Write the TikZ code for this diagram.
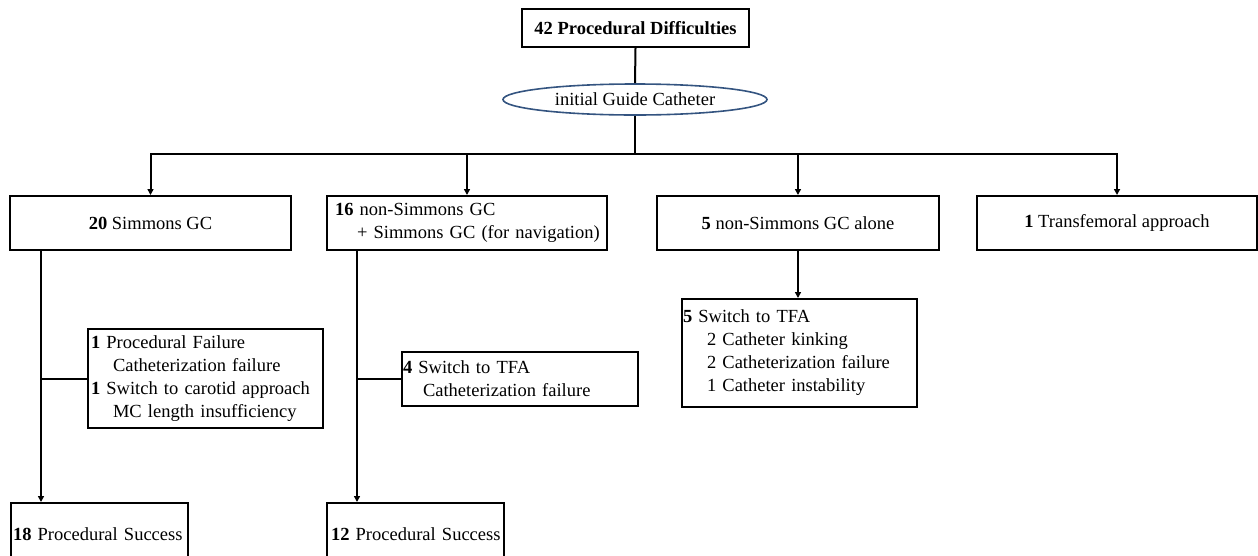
\documentclass[tikz,border=0pt]{standalone}
\usepackage{fontspec}
\setmainfont{Liberation Serif}
\usetikzlibrary{arrows.meta,shapes.geometric,calc}
\definecolor{ellcol}{RGB}{52,84,128}
\begin{document}
\begin{tikzpicture}[x=1pt,y=-1pt,
  font=\fontsize{18.5}{23}\selectfont,
  box/.style={draw,line width=2pt,rectangle,inner sep=0pt},
  lbox/.style={box,align=left},
  conn/.style={line width=2pt},
  arr/.style={conn,-{Triangle[length=6pt,width=6pt]}}]

\useasboundingbox (0,0) rectangle (1258,555);
\clip (0,0) rectangle (1258,555);

% nodes
\node[box,minimum width=227pt,minimum height=38pt] (top) at (635.5,28) {\textbf{42 Procedural Difficulties}};
\node[ellipse,draw=ellcol,line width=1.6pt,minimum width=264pt,minimum height=31pt,inner sep=0pt] (ell) at (635,99.5) {initial Guide Catheter};

\node[box,minimum width=281pt,minimum height=54pt] (b1) at (150.5,223) {\textbf{20} Simmons GC};
\node[lbox,minimum width=280pt,minimum height=54pt,text width=264pt] (b2) at (467,223)
  {\mbox{\textbf{16} non-Simmons GC}\\\mbox{\hspace*{22pt}+ Simmons GC (for navigation)}};
\node[box,minimum width=282pt,minimum height=54pt] (b3) at (798,223) {\textbf{5} non-Simmons GC alone};
\node[box,minimum width=280pt,minimum height=54pt] (b4) at (1117,223) {\textbf{1} Transfemoral approach};

\node[lbox,minimum width=235pt,minimum height=99pt,text width=229pt] (f1) at (205.5,378.5)
  {\mbox{\textbf{1} Procedural Failure}\\\mbox{\hspace*{22pt}Catheterization failure}\\\mbox{\textbf{1} Switch to carotid approach}\\\mbox{\hspace*{22pt}MC length insufficiency}};
\node[lbox,minimum width=236pt,minimum height=54pt,text width=234pt] (f2) at (520,379)
  {\mbox{\textbf{4} Switch to TFA}\\\mbox{\hspace*{20pt}Catheterization failure}};
\node[lbox,minimum width=235pt,minimum height=108pt,text width=233pt] (t3) at (799.5,353)
  {\mbox{\textbf{5} Switch to TFA}\\\mbox{\hspace*{24pt}2 Catheter kinking}\\\mbox{\hspace*{24pt}2 Catheterization failure}\\\mbox{\hspace*{24pt}1 Catheter instability}};

\node[lbox,minimum width=177pt,minimum height=62pt,text width=173pt] (s1) at (99.5,534) {\mbox{\textbf{18} Procedural Success}};
\node[lbox,minimum width=177pt,minimum height=62pt,text width=169pt] (s2) at (415.5,534) {\mbox{\textbf{12} Procedural Success}};

% connectors
\coordinate (hub) at (635,154);
\draw[conn] (top.south) -- (ell.north);
\draw[conn] (ell.south) -- (hub);
\draw[arr] (hub) -| (b1.north);
\draw[arr] (hub) -| (b2.north);
\draw[arr] (hub) -| (b3.north);
\draw[arr] (hub) -| (b4.north);

\coordinate (v1) at ([xshift=32pt]b1.south west);
\draw[arr] (v1) -- (v1 |- s1.north);
\draw[conn] (f1.west) -- (f1.west -| v1);

\coordinate (v2) at ([xshift=31pt]b2.south west);
\draw[arr] (v2) -- (v2 |- s2.north);
\draw[conn] (f2.west) -- (f2.west -| v2);

\draw[arr] (b3.south) -- (b3.south |- t3.north);
\end{tikzpicture}
\end{document}
